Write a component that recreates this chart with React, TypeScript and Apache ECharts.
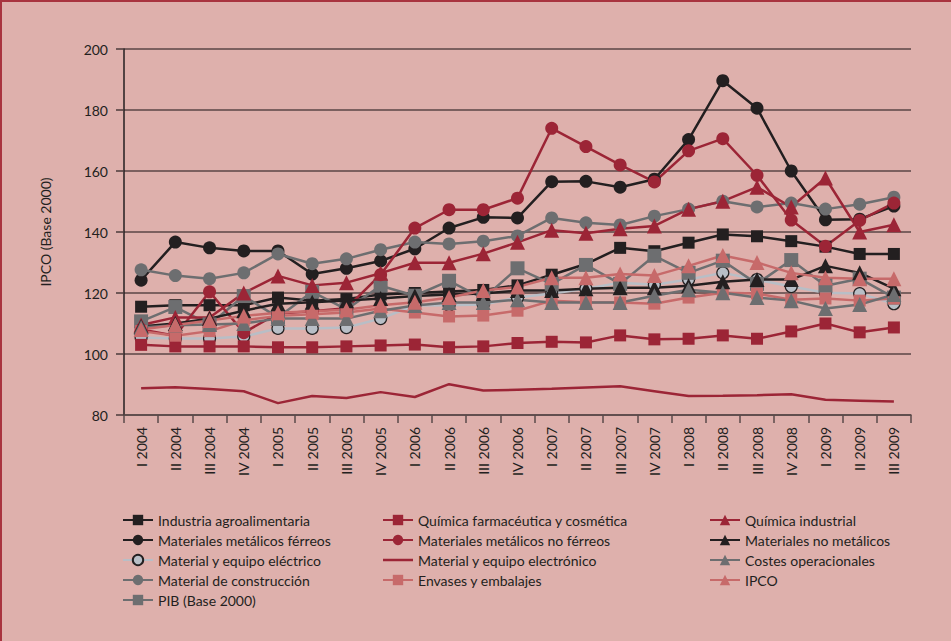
import React, { useEffect, useRef } from "react";
import * as echarts from "echarts";

const categories = [
  "I 2004", "II 2004", "III 2004", "IV 2004",
  "I 2005", "II 2005", "III 2005", "IV 2005",
  "I 2006", "II 2006", "III 2006", "IV 2006",
  "I 2007", "II 2007", "III 2007", "IV 2007",
  "I 2008", "II 2008", "III 2008", "IV 2008",
  "I 2009", "II 2009", "III 2009",
];

const industriaAgro = [115.5, 116, 116, 116, 118.5, 117.5, 118, 119.5, 120, 120.5, 121, 122.5, 126, 129.5, 134.8, 133.7, 136.5, 139.2, 138.6, 137, 135.2, 132.8, 132.8];
const metalicosFerreos = [124.2, 136.7, 134.8, 133.8, 133.8, 126.2, 128.1, 130.5, 134.5, 141.3, 144.8, 144.6, 156.5, 156.6, 154.7, 157.3, 170.3, 189.6, 180.6, 160, 144, 144.2, 148.5];
const equipoElectrico = [105.4, 105.1, 105.1, 105.7, 108.4, 108.4, 108.7, 111.6, 115.9, 116, 116.2, 118.5, 119.8, 121.4, 123.4, 122.7, 124.4, 126.6, 124.4, 122.1, 120.1, 119.8, 116.5];
const construccion = [127.6, 125.7, 124.7, 126.6, 132.8, 129.6, 131.2, 134.2, 136.7, 136.1, 137, 138.7, 144.6, 143, 142.3, 145.2, 147.5, 150.1, 148.2, 149.5, 147.5, 149.1, 151.4];
const pib = [110.7, 115.4, 109.7, 119, 112, 120.4, 114.6, 122.4, 119.1, 124, 118.2, 128.1, 123, 129.2, 123, 132.2, 126.6, 130.6, 123, 130.8, 122.4, 124.7, 118.5];
const quimicaFarma = [103, 102.5, 102.5, 102.5, 102.2, 102.2, 102.5, 102.8, 103.1, 102.2, 102.5, 103.6, 104, 103.8, 106.1, 104.8, 105, 106.1, 105, 107.4, 110, 107.1, 108.7];
const metalicosNoFerreos = [108, 106, 120.4, 107, 113.3, 114, 115, 126, 141.3, 147.3, 147.3, 151.1, 174, 168, 162, 156.4, 166.6, 170.6, 158.6, 143.9, 135.3, 143.8, 149.5];
const equipoElectronico = [88.8, 89.1, 88.5, 87.8, 83.9, 86.2, 85.6, 87.5, 85.9, 90.1, 88, 88.3, 88.6, 89, 89.4, 87.8, 86.2, 86.3, 86.5, 86.8, 85, 84.7, 84.4];
const envases = [107.5, 106, 107.5, 111, 112.5, 113, 113.6, 114.9, 113.6, 112.3, 112.6, 114.2, 117.5, 117, 116.9, 116.5, 118.5, 120.1, 119.8, 117.8, 118.2, 117.5, 118.2];
const quimicaIndustrial = [109.5, 112, 112, 120, 125.6, 122.5, 123.4, 126.5, 129.9, 129.9, 132.9, 136.6, 140.6, 139.6, 141.1, 142, 147.5, 150.1, 154.7, 148.2, 157.7, 140, 142.4];
const noMetalicos = [109, 110, 111.6, 114.2, 116.5, 117, 117.5, 118.2, 119, 119.5, 119.8, 120.8, 120.8, 121.4, 121.7, 121.7, 122.4, 123.7, 124.4, 124.4, 128.9, 126.6, 121.4];
const costes = [108.7, 109.4, 109.7, 110, 111.6, 111.6, 111.6, 114.2, 115.9, 116.9, 116.9, 117.8, 116.9, 116.9, 116.9, 119.1, 121.1, 120.1, 118.5, 117.5, 114.9, 116.2, 119.5];
const ipco = [108, 109.5, 111, 112.5, 113.5, 114, 114.5, 116, 117, 118.5, 120.8, 122, 125, 125, 126.2, 125.7, 128.9, 132.3, 130, 126.6, 125, 124.7, 124.7];

const yTicks = { min: 80, max: 200, interval: 20 };

const BLACK = "#231f20";
const DARKRED = "#9c2536";
const ROSE = "#c76a6a";
const GREY = "#6d6e70";
const LIGHTGREY = "#b8bec6";
const FONT = "Lato, 'Noto Sans', sans-serif";

function mk(name: string, data: number[], color: string, symbol: string, size: number, extra: any = {}) {
  return {
    name,
    type: "line",
    data,
    symbol,
    symbolSize: size,
    showSymbol: symbol !== "none",
    lineStyle: { color, width: 2.5 },
    itemStyle: { color },
    z: 2,
    ...extra,
  };
}

export default function App() {
  const ref = useRef<HTMLDivElement>(null);
  useEffect(() => {
    if (!ref.current) return;
    const chart = echarts.init(ref.current, undefined, { renderer: "svg" });
    const series = [
      mk("Industria agroalimentaria", industriaAgro, BLACK, "rect", 12),
      mk("Materiales metálicos férreos", metalicosFerreos, BLACK, "circle", 13),
      mk("Material y equipo eléctrico", equipoElectrico, LIGHTGREY, "circle", 12, {
        itemStyle: { color: LIGHTGREY, borderColor: BLACK, borderWidth: 1.2 },
      }),
      mk("Material de construcción", construccion, GREY, "circle", 13),
      mk("PIB (Base 2000)", pib, GREY, "rect", 14),
      mk("Química farmacéutica y cosmética", quimicaFarma, DARKRED, "rect", 12),
      mk("Materiales metálicos no férreos", metalicosNoFerreos, DARKRED, "circle", 13),
      mk("Material y equipo electrónico", equipoElectronico, DARKRED, "none", 0),
      mk("Envases y embalajes", envases, ROSE, "rect", 12),
      mk("Química industrial", quimicaIndustrial, DARKRED, "triangle", 15),
      mk("Materiales no metálicos", noMetalicos, BLACK, "triangle", 15),
      mk("Costes operacionales", costes, GREY, "triangle", 15),
      mk("IPCO", ipco, ROSE, "triangle", 15),
    ];
    const legendData = (list: any[]) =>
      list.map((s) =>
        s.symbol === "none"
          ? { name: s.name, icon: "path://M0,0L30,0L30,2.5L0,2.5Z" }
          : { name: s.name }
      );
    const legendBase = {
      orient: "vertical",
      top: 506,
      itemWidth: 30,
      itemHeight: 13,
      itemGap: 6,
      textStyle: { fontFamily: FONT, fontSize: 14, color: BLACK, lineHeight: 14 },
    };
    chart.setOption({
      animation: false,
      backgroundColor: "#deb0ac",
      textStyle: { fontFamily: FONT },
      grid: { left: 122, right: 40, top: 47, bottom: 226, containLabel: false },
      legend: [
        { ...legendBase, left: 115, data: legendData(series.slice(0, 5)) },
        { ...legendBase, left: 375, data: legendData(series.slice(5, 9)) },
        { ...legendBase, left: 702, data: legendData(series.slice(9, 13)) },
      ],
      xAxis: {
        type: "category",
        data: categories,
        boundaryGap: true,
        axisLine: { lineStyle: { color: "#5a4a4a", width: 1.5 } },
        axisTick: { show: true, alignWithLabel: false, length: 8, lineStyle: { color: "#5a4a4a", width: 1.5 } },
        axisLabel: { rotate: 90, fontSize: 14, color: BLACK, margin: 12, fontFamily: FONT, interval: 0 },
      },
      yAxis: {
        type: "value",
        min: yTicks.min,
        max: yTicks.max,
        interval: yTicks.interval,
        name: "IPCO (Base 2000)",
        nameLocation: "middle",
        nameGap: 72,
        nameTextStyle: { fontSize: 14, color: BLACK, fontFamily: FONT },
        axisLine: { show: true, lineStyle: { color: BLACK, width: 1.5 } },
        axisTick: { show: true, length: 8, lineStyle: { color: "#4a3a3a", width: 1.5 } },
        axisLabel: { fontSize: 14, color: BLACK, margin: 16, fontFamily: FONT },
        splitLine: { show: true, lineStyle: { color: "#5a4646", width: 1.5 } },
      },
      series,
    });
    return () => chart.dispose();
  }, []);
  return (
    <div
      style={{
        position: "fixed",
        left: 0,
        top: 0,
        width: 951,
        height: 641,
        boxSizing: "border-box",
        borderTop: "2px solid #a8343f",
        borderLeft: "2px solid #a8343f",
        background: "#deb0ac",
      }}
    >
      <div ref={ref} style={{ width: 949, height: 639 }} />
    </div>
  );
}
